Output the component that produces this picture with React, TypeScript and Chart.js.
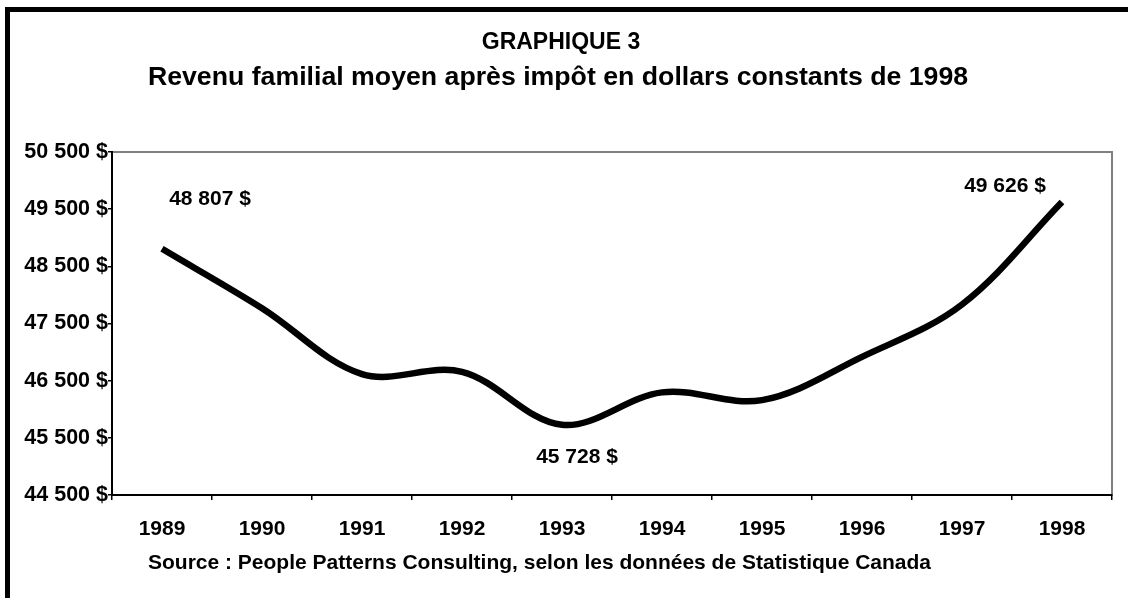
import React, { useEffect, useRef } from "react";
import { Chart, registerables } from "chart.js";

Chart.register(...registerables);

// ---- Data ----
const years = ["1989", "1990", "1991", "1992", "1993", "1994", "1995", "1996", "1997", "1998"];
const revenus = [48807, 47768, 46615, 46655, 45728, 46295, 46160, 46917, 47833, 49626];
const yMin = 44500;
const yMax = 50500;
const yStep = 1000;
const titleLine1 = "GRAPHIQUE 3";
const titleLine2 = "Revenu familial moyen après impôt en dollars constants de 1998";
const sourceText = "Source : People Patterns Consulting, selon les données de Statistique Canada";
const labeledPoints = [0, 4, 9];

// ---- Styles ----
const FONT = "'Liberation Sans', Arial, Helvetica, sans-serif";
const labelOffsets: Record<number, [number, number]> = {
  0: [48, -50],
  4: [15, 32],
  9: [-57, -16],
};

function fmtDollar(v: number): string {
  return String(Math.round(v)).replace(/\B(?=(\d{3})+(?!\d))/g, " ") + " $";
}

const decorPlugin = {
  id: "decor",
  beforeDraw(chart: any) {
    const ctx = chart.ctx;
    const { left, top, right, bottom } = chart.chartArea;
    ctx.save();
    ctx.fillStyle = "#ffffff";
    ctx.fillRect(0, 0, chart.width, chart.height);
    // outer frame (left and top visible)
    ctx.fillStyle = "#000000";
    ctx.fillRect(5, 7, 5, chart.height);
    ctx.fillRect(5, 7, chart.width, 5);
    // plot area border
    ctx.strokeStyle = "#808080";
    ctx.lineWidth = 2;
    ctx.strokeRect(left, top, right - left, bottom - top);
    ctx.restore();
  },
  afterDraw(chart: any) {
    const ctx = chart.ctx;
    ctx.save();
    ctx.fillStyle = "#000000";
    ctx.textAlign = "center";
    ctx.textBaseline = "middle";
    ctx.font = `bold 23px ${FONT}`;
    ctx.fillText(titleLine1, 561, 43);
    ctx.font = `bold 26.7px ${FONT}`;
    ctx.fillText(titleLine2, 558, 78);
    ctx.font = `bold 21px ${FONT}`;
    ctx.textAlign = "left";
    ctx.fillText(sourceText, 148, 563);
    // data labels
    ctx.textAlign = "center";
    const xs = chart.scales.x;
    const ys = chart.scales.y;
    labeledPoints.forEach((i) => {
      const off = labelOffsets[i] || [0, -20];
      const px = xs.getPixelForValue(i) + off[0];
      const py = ys.getPixelForValue(revenus[i]) + off[1];
      ctx.fillText(fmtDollar(revenus[i]), px, py);
    });
    ctx.restore();
  },
};

export default function App() {
  const canvasRef = useRef<HTMLCanvasElement | null>(null);

  useEffect(() => {
    if (!canvasRef.current) return;
    const chart = new Chart(canvasRef.current, {
      type: "line",
      data: {
        labels: years,
        datasets: [
          {
            data: revenus,
            borderColor: "#000000",
            borderWidth: 6.5,
            pointRadius: 0,
            tension: 0.35,
            fill: false,
            borderCapStyle: "butt",
          },
        ],
      },
      options: {
        responsive: false,
        animation: false,
        devicePixelRatio: 1,
        layout: { padding: { left: 0, right: 16, top: 152, bottom: 0 } },
        plugins: {
          legend: { display: false },
          tooltip: { enabled: false },
          title: { display: false },
        },
        scales: {
          x: {
            type: "category",
            offset: true,
            grid: {
              display: true,
              offset: true,
              drawOnChartArea: false,
              drawTicks: true,
              tickLength: 5,
              color: "#000000",
              lineWidth: 1.5,
            },
            border: { display: true, color: "#000000", width: 2 },
            ticks: {
              color: "#000000",
              font: { family: FONT, size: 21, weight: "bold" },
              padding: 17,
              maxRotation: 0,
              autoSkip: false,
            },
            afterFit(scale: any) {
              scale.height = 103;
            },
          },
          y: {
            min: yMin,
            max: yMax,
            grid: {
              display: true,
              drawOnChartArea: false,
              drawTicks: true,
              tickLength: 4,
              color: "#000000",
              lineWidth: 1.5,
            },
            border: { display: true, color: "#000000", width: 2 },
            ticks: {
              stepSize: yStep,
              color: "#000000",
              font: { family: FONT, size: 21.5, weight: "bold" },
              padding: 0,
              callback: (v: any) => fmtDollar(Number(v)),
            },
            afterFit(scale: any) {
              scale.width = 112;
            },
          },
        },
      },
      plugins: [decorPlugin],
    });
    return () => chart.destroy();
  }, []);

  return (
    <div style={{ position: "fixed", left: 0, top: 0, width: 1128, height: 598, background: "#fff" }}>
      <canvas ref={canvasRef} width={1128} height={598} style={{ display: "block" }} />
    </div>
  );
}
